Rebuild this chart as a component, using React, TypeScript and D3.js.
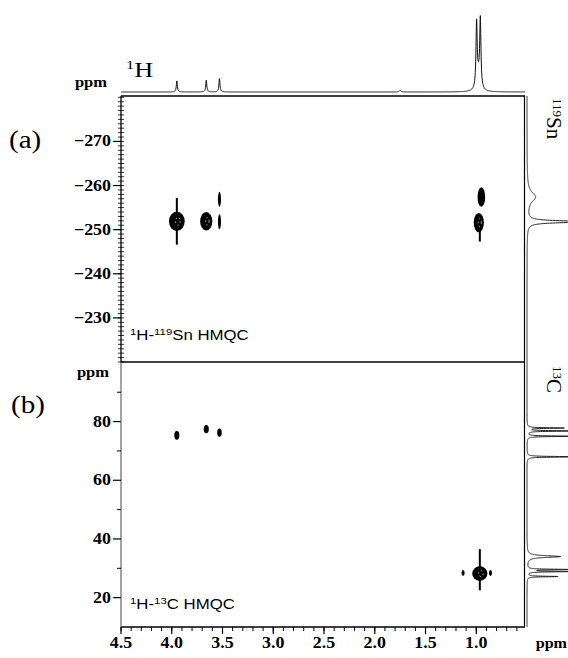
import * as d3 from "d3";

// tick values
const hTicks = [4.5, 4.0, 3.5, 3.0, 2.5, 2.0, 1.5, 1.0];
const snTicks = [-270, -260, -250, -240, -230];
const cTicks = [80, 60, 40, 20];
const cMinor = [90, 70, 50, 30];

// 1D projections: [ppm, intensity, half width (ppm)]
const hPeaks = [
  [3.95, 14, 0.006],
  [3.66, 15, 0.006],
  [3.53, 17, 0.006],
  [1.75, 2, 0.01],
  [0.997, 80, 0.007],
  [0.96, 84, 0.007],
  [0.978, 18, 0.02],
];
const snPeaks = [
  [-251.8, 100, 0.25],
  [-257.4, 14, 1.3],
];
const cPeaks = [
  [77.8, 60, 0.12],
  [76.8, 80, 0.12],
  [75.0, 80, 0.12],
  [68.0, 90, 0.12],
  [34.0, 55, 0.35],
  [29.6, 70, 0.12],
  [28.9, 75, 0.12],
  [27.2, 50, 0.12],
];

// cross peaks: [1H ppm, X ppm, 1H width, X width]
const snCross = [
  [3.95, -251.9, 0.155, 4.4],
  [3.66, -251.9, 0.12, 4.2],
  [3.53, -251.8, 0.03, 3.4],
  [3.53, -256.9, 0.03, 3.4],
  [0.975, -251.6, 0.1, 4.4],
  [0.95, -257.4, 0.075, 4.4],
];
const snStreaks = [
  [3.95, -257.2, -246.6],
  [0.965, -253, -247.3],
];
const cCross = [
  [3.95, 75.3, 0.05, 3.0],
  [3.66, 77.4, 0.05, 2.8],
  [3.53, 76.2, 0.045, 2.8],
  [0.965, 28.2, 0.15, 5.0],
  [1.13, 28.4, 0.03, 2.0],
  [0.86, 28.4, 0.03, 2.0],
];
const cStreaks = [[0.965, 36.5, 22.5]];

const W = 568;
const H = 658;

const x = d3.scaleLinear().domain([4.5, 0.52]).range([121, 525]);
const ySn = d3.scaleLinear().domain([-280.3, -220]).range([96, 362]);
const yC = d3.scaleLinear().domain([100.3, 10]).range([362, 627]);
const hInt = d3.scaleLinear().domain([0, 100]).range([92, 13]);
const sideInt = d3.scaleLinear().domain([0, 100]).range([527, 588]);

function lorentz(peaks: number[][], v: number) {
  let s = 0;
  for (const [p, a, w] of peaks) s += (a * w * w) / ((v - p) * (v - p) + w * w);
  return s;
}

function samples(peaks: number[][], lo: number, hi: number, step: number) {
  const vs = d3.range(lo, hi, step).concat(peaks.map((p) => p[0]));
  vs.sort((a, b) => a - b);
  return vs.map((v) => [v, lorentz(peaks, v)]);
}

const serif = "'Liberation Serif', 'Times New Roman', serif";
const sans = "'Liberation Sans', Arial, sans-serif";

// text slightly widened, like the scanned figure
function Label({ x, y, sx = 1.12, anchor = "start", children, ...rest }: any) {
  return (
    <text transform={`translate(${x},${y}) scale(${sx},1)`} textAnchor={anchor} {...rest}>
      {children}
    </text>
  );
}

function Cross({ data, y }: { data: number[][]; y: d3.ScaleLinear<number, number> }) {
  return (
    <g>
      {data.map(([h, v, wh, wv], i) => {
        const rx = Math.abs(x(h + wh / 2) - x(h));
        const ry = Math.abs(y(v + wv / 2) - y(v));
        return (
          <g key={i}>
            <ellipse cx={x(h)} cy={y(v)} rx={rx} ry={ry} fill="#000" />
            {rx > 4 && (
              <ellipse
                cx={x(h) + 1}
                cy={y(v)}
                rx={rx * 0.3}
                ry={ry * 0.4}
                fill="none"
                stroke="#fff"
                strokeWidth={0.7}
                strokeDasharray="1.5 2.5"
              />
            )}
          </g>
        );
      })}
    </g>
  );
}

export default function App() {
  const hLine = d3
    .line<number[]>()
    .x((d) => x(d[0]))
    .y((d) => hInt(d[1]));
  const snLine = d3
    .line<number[]>()
    .x((d) => sideInt(d[1]))
    .y((d) => ySn(d[0]));
  const cLine = d3
    .line<number[]>()
    .x((d) => sideInt(d[1]))
    .y((d) => yC(d[0]));

  const hMinor = d3.range(6, 46).map((v) => v / 10);
  const snMinor = d3.range(-280, -219);

  return (
    <svg
      width={W}
      height={H}
      style={{ position: "absolute", left: 0, top: 0, background: "#fff" }}
    >
      {/* projections */}
      <path d={hLine(samples(hPeaks, 0.52, 4.5, 0.002)) || ""} fill="none" stroke="#111" strokeWidth={1} />
      <path d={snLine(samples(snPeaks, -280.3, -220, 0.03)) || ""} fill="none" stroke="#222" strokeWidth={1} />
      <path d={cLine(samples(cPeaks, 10, 100.3, 0.02)) || ""} fill="none" stroke="#222" strokeWidth={1} />

      {/* frame */}
      <line x1={121} x2={525} y1={96} y2={96} stroke="#000" strokeWidth={1.3} />
      <line x1={121} x2={525} y1={362} y2={362} stroke="#000" strokeWidth={1.3} />
      <line x1={121} x2={525} y1={627} y2={627} stroke="#000" strokeWidth={1.3} />
      <line x1={524.5} x2={524.5} y1={96} y2={627} stroke="#000" strokeWidth={1.2} />
      <line x1={121} x2={121} y1={96} y2={362} stroke="#000" strokeWidth={1.3} />
      <line x1={121} x2={121} y1={362} y2={627} stroke="#666" strokeWidth={1.2} />

      {/* bottom axis */}
      {hMinor.map((v) => (
        <line key={v} x1={x(v)} x2={x(v)} y1={627} y2={631} stroke="#000" strokeWidth={1} />
      ))}
      {hTicks.map((v) => (
        <g key={v}>
          <line x1={x(v)} x2={x(v)} y1={627} y2={634} stroke="#000" strokeWidth={1.2} />
          <Label x={x(v)} y={648} anchor="middle" fontFamily={serif} fontWeight="bold" fontSize={16}>
            {v.toFixed(1)}
          </Label>
        </g>
      ))}
      <Label x={567} y={648} anchor="end" sx={1.15} fontFamily={serif} fontWeight="bold" fontSize={14}>
        ppm
      </Label>

      {/* Sn axis */}
      {snMinor.map((v) => (
        <line key={v} x1={118} x2={124} y1={ySn(v)} y2={ySn(v)} stroke="#000" strokeWidth={0.8} />
      ))}
      {snTicks.map((v) => (
        <g key={v}>
          <line x1={113} x2={121} y1={ySn(v)} y2={ySn(v)} stroke="#000" strokeWidth={1.2} />
          <Label x={111} y={ySn(v) + 5} anchor="end" fontFamily={serif} fontWeight="bold" fontSize={16}>
            {d3.format("d")(v)}
          </Label>
        </g>
      ))}

      {/* C axis */}
      {cMinor.map((v) => (
        <line key={v} x1={117} x2={121} y1={yC(v)} y2={yC(v)} stroke="#000" strokeWidth={1} />
      ))}
      {cTicks.map((v) => (
        <g key={v}>
          <line x1={113} x2={121} y1={yC(v)} y2={yC(v)} stroke="#000" strokeWidth={1.2} />
          <Label x={111} y={yC(v) + 5} anchor="end" fontFamily={serif} fontWeight="bold" fontSize={16}>
            {v}
          </Label>
        </g>
      ))}

      {/* cross peaks */}
      {snStreaks.map(([h, a, b], i) => (
        <line key={i} x1={x(h)} x2={x(h)} y1={ySn(a)} y2={ySn(b)} stroke="#000" strokeWidth={2} />
      ))}
      {cStreaks.map(([h, a, b], i) => (
        <line key={i} x1={x(h)} x2={x(h)} y1={yC(a)} y2={yC(b)} stroke="#000" strokeWidth={2} />
      ))}
      <Cross data={snCross} y={ySn} />
      <Cross data={cCross} y={yC} />

      {/* labels */}
      <Label x={107} y={87} anchor="end" sx={1.18} fontFamily={serif} fontWeight="bold" fontSize={14}>
        ppm
      </Label>
      <Label x={109} y={377} anchor="end" sx={1.18} fontFamily={serif} fontWeight="bold" fontSize={14}>
        ppm
      </Label>
      <Label x={9} y={148} fontFamily={serif} fontSize={26}>
        (a)
      </Label>
      <Label x={11} y={413} fontFamily={serif} fontSize={26}>
        (b)
      </Label>
      <Label x={126} y={77} sx={1.25} fontFamily={serif} fontSize={21}>
        <tspan fontSize={13} dy={-8}>1</tspan>
        <tspan dy={8}>H</tspan>
      </Label>
      <Label x={130} y={340} sx={1.2} fontFamily={sans} fontSize={14}>
        <tspan fontSize={9.5} dy={-5}>1</tspan>
        <tspan dy={5}>H-</tspan>
        <tspan fontSize={9.5} dy={-5}>119</tspan>
        <tspan dy={5}>Sn HMQC</tspan>
      </Label>
      <Label x={130} y={609} sx={1.2} fontFamily={sans} fontSize={14}>
        <tspan fontSize={9.5} dy={-5}>1</tspan>
        <tspan dy={5}>H-</tspan>
        <tspan fontSize={9.5} dy={-5}>13</tspan>
        <tspan dy={5}>C HMQC</tspan>
      </Label>
      <text transform="translate(547,98) rotate(90)" fontFamily={serif} fontSize={21}>
        <tspan fontSize={13} dy={-6}>119</tspan>
        <tspan dy={6}>Sn</tspan>
      </text>
      <text transform="translate(547,366) rotate(90)" fontFamily={serif} fontSize={21}>
        <tspan fontSize={13} dy={-6}>13</tspan>
        <tspan dy={6}>C</tspan>
      </text>
    </svg>
  );
}
